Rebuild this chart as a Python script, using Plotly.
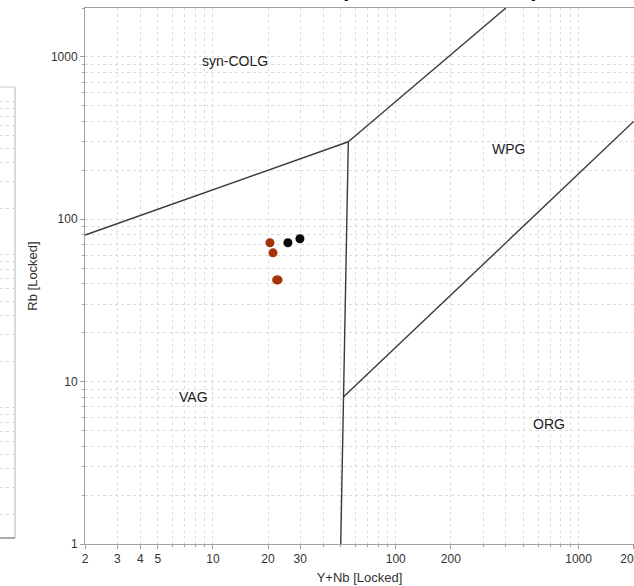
import numpy as np
import plotly.graph_objects as go

# Sample compositions (Y+Nb, Rb in ppm), two groups
grp_a_ynb = [20.5, 21.3, 22.3, 22.7]
grp_a_rb = [71.7, 62.1, 42.3, 42.3]
grp_b_ynb = [25.7, 29.9]
grp_b_rb = [71.7, 75.9]

# Pearce et al. (1984) field boundaries
b_vag_col_x = [2, 55]
b_vag_col_y = [80, 300]
b_col_wpg_x = [55, 400]
b_col_wpg_y = [300, 2000]
b_vag_wpg_x = [55, 51.5, 50]
b_vag_wpg_y = [300, 8, 1]
b_wpg_org_x = [51.5, 2000]
b_wpg_org_y = [8, 400]

# Field names
field_names = ["syn-COLG", "WPG", "VAG", "ORG"]
field_x = [13.2, 415, 7.8, 687]
field_y = [937, 269, 8.06, 5.5]

# Axis ticks
x_major = [2, 3, 4, 5, 10, 20, 30, 100, 200, 1000, 2000]
x_minor = [6, 7, 8, 9, 40, 50, 60, 70, 80, 90, 300, 400, 500, 600, 700, 800, 900]
y_major = [1, 10, 100, 1000]
y_minor = [2, 3, 4, 5, 6, 7, 8, 9, 20, 30, 40, 50, 60, 70, 80, 90,
           200, 300, 400, 500, 600, 700, 800, 900, 2000]

W, H = 634, 586
ML, MR, MT, MB = 0, 0, 8, 42
plot_h = H - MT - MB


def py(px):
    """pixel row -> paper y"""
    return 1 - (px - MT) / plot_h


FONT = "Liberation Sans, Arial, sans-serif"
GRID = "#dcdcdc"
DASH = "3px,3px"
AXIS = "#a0a0a0"
LINE = "#3a3a3a"

fig = go.Figure()

for bx, by in [(b_vag_col_x, b_vag_col_y), (b_col_wpg_x, b_col_wpg_y),
               (b_vag_wpg_x, b_vag_wpg_y), (b_wpg_org_x, b_wpg_org_y)]:
    fig.add_trace(go.Scatter(x=bx, y=by, mode="lines",
                             line=dict(color=LINE, width=1.4),
                             hoverinfo="skip", showlegend=False))

fig.add_trace(go.Scatter(x=grp_a_ynb, y=grp_a_rb, mode="markers",
                         marker=dict(color="#a33408", size=9),
                         showlegend=False))
fig.add_trace(go.Scatter(x=grp_b_ynb, y=grp_b_rb, mode="markers",
                         marker=dict(color="#0a0a0a", size=9),
                         showlegend=False))

# neighbouring panel on the left (empty)
fig.add_trace(go.Scatter(x=[0.5], y=[10], xaxis="x3", yaxis="y3",
                         mode="markers", marker=dict(opacity=0),
                         hoverinfo="skip", showlegend=False))

for name, fx, fy in zip(field_names, field_x, field_y):
    fig.add_annotation(x=np.log10(fx), y=np.log10(fy), text=name,
                       showarrow=False,
                       font=dict(family=FONT, size=14, color="#222222"))

fig.add_annotation(xref="paper", yref="paper", x=541 / W, y=py(3),
                   xanchor="right", yanchor="bottom", showarrow=False,
                   text="<b>Rb vs. Y+Nb (Pearce et al. 1984)</b>",
                   font=dict(family=FONT, size=22, color="#000000"))

# frame of the left panel
fig.add_shape(type="line", xref="paper", yref="paper",
              x0=0, x1=15 / W, y0=py(87), y1=py(87),
              line=dict(color="#cccccc", width=1))
fig.add_shape(type="line", xref="paper", yref="paper",
              x0=15 / W, x1=15 / W, y0=py(538), y1=py(87),
              line=dict(color="#cccccc", width=1.5))
fig.add_shape(type="line", xref="paper", yref="paper",
              x0=0, x1=15 / W, y0=py(538), y1=py(538),
              line=dict(color="#aaaaaa", width=2))

fig.update_layout(
    width=W, height=H,
    margin=dict(l=ML, r=MR, t=MT, b=MB),
    paper_bgcolor="white", plot_bgcolor="white",
    font=dict(family=FONT, size=12, color="#333333"),
    xaxis=dict(
        type="log", range=[np.log10(2) - 0.001, np.log10(2000) + 0.002],
        domain=[85 / W, 1], automargin=False, ticklabeloverflow="allow",
        tickvals=x_major, ticktext=[str(v) for v in x_major],
        ticks="outside", ticklen=4, tickcolor=AXIS,
        showgrid=True, gridcolor=GRID, griddash=DASH, gridwidth=1,
        minor=dict(tickvals=x_minor, ticks="outside", ticklen=2,
                   tickcolor=AXIS, showgrid=True, gridcolor=GRID,
                   griddash=DASH),
        showline=True, linecolor=AXIS, linewidth=1, mirror=True,
        zeroline=False,
        title=dict(text="Y+Nb [Locked]", standoff=7,
                   font=dict(size=13, color="#333333")),
    ),
    yaxis=dict(
        type="log", range=[0, np.log10(2000)],
        automargin=False,
        tickvals=y_major, ticktext=[str(v) for v in y_major],
        ticks="outside", ticklen=4, tickcolor=AXIS,
        showgrid=True, gridcolor=GRID, griddash=DASH, gridwidth=1,
        minor=dict(tickvals=y_minor, ticks="outside", ticklen=2,
                   tickcolor=AXIS, showgrid=True, gridcolor=GRID,
                   griddash=DASH),
        showline=True, linecolor=AXIS, linewidth=1, mirror=True,
        zeroline=False,
        title=dict(text="Rb [Locked]", standoff=10,
                   font=dict(size=13, color="#333333")),
    ),
    xaxis3=dict(
        domain=[0, 15 / W], anchor="y3", range=[0, 1],
        showticklabels=False, ticks="", showgrid=False, zeroline=False,
        showline=False,
    ),
    yaxis3=dict(
        domain=[py(538), py(87)], anchor="x3", type="log",
        range=[0.15, 3.098], showticklabels=False, ticks="",
        showgrid=True, gridcolor=GRID, griddash=DASH,
        minor=dict(dtick="D1", showgrid=True, gridcolor=GRID,
                   griddash=DASH),
        showline=False, zeroline=False,
    ),
)

fig.write_html("out.html")
